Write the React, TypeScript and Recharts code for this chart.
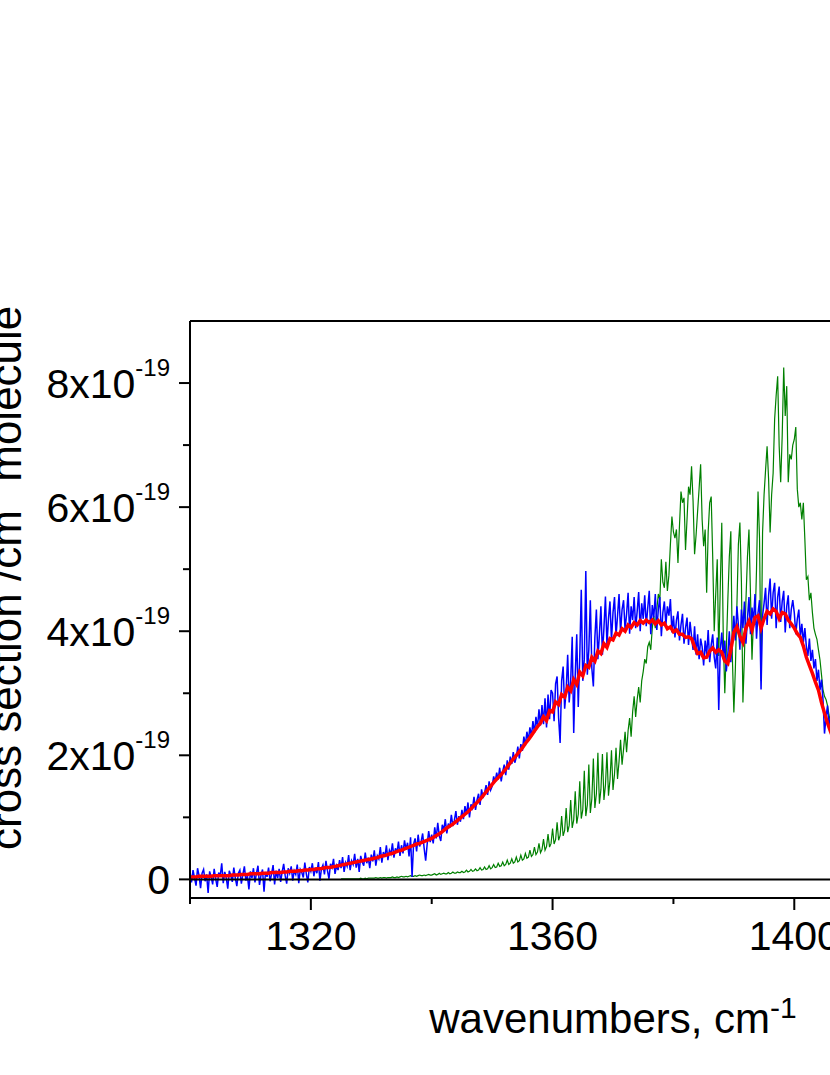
import React from 'react';
import { LineChart, Line, XAxis, YAxis, ReferenceLine } from 'recharts';

// Axes
const X_DOMAIN: [number, number] = [1300, 1440];
const Y_DOMAIN: [number, number] = [-0.3, 9];
const X_TICKS = [1300, 1320, 1340, 1360, 1380, 1400, 1420, 1440];
const X_LABELED = [1320, 1360, 1400, 1440];
const Y_TICKS = [0, 1, 2, 3, 4, 5, 6, 7, 8];
const Y_LABELED = [0, 2, 4, 6, 8];
const Y_EXPONENT = '-19';
const X_TITLE = 'wavenumbers, cm';
const X_TITLE_SUP = '-1';
const Y_TITLE = 'cross section /cm';
const Y_TITLE_SUP1 = '2';
const Y_TITLE_MID = ' molecule';
const Y_TITLE_SUP2 = '-1';

// Values are cross sections in units of 1e-19 cm^2 molecule^-1
// Measured spectrum (blue), 0.25 cm-1 grid from 1300
const BLUE_START = 1300;
const BLUE_STEP = 0.25;
const BLUE = [
  0.12,-0.05,0.15,0.02,-0.10,0.18,0.06,-0.14,0.10,0.16,-0.03,0.08,-0.22,0.13,0.04,-0.08,0.17,0.01,-0.12,0.11,
  0.05,0.26,-0.06,0.12,0.03,-0.15,0.14,0.07,-0.04,0.19,0.02,-0.11,0.10,0.15,-0.07,0.08,0.21,-0.02,0.06,-0.16,
  0.13,0.02,0.18,-0.05,0.10,0.22,-0.09,0.07,0.16,-0.20,0.12,0.04,0.19,-0.03,0.09,0.23,-0.08,0.14,0.02,0.17,
  -0.04,0.12,0.25,0.06,-0.07,0.18,0.10,0.21,-0.02,0.14,0.08,0.24,-0.06,0.16,0.11,0.03,0.27,0.09,-0.05,0.20,
  0.13,0.26,0.05,0.19,0.10,0.28,-0.02,0.17,0.23,0.08,0.30,0.14,0.01,0.25,0.19,0.33,0.09,0.22,0.15,0.31,
  0.18,0.36,0.12,0.27,0.21,0.39,0.15,0.30,0.24,0.41,0.19,0.33,0.12,0.38,0.28,0.22,0.43,0.26,0.35,0.18,
  0.40,0.29,0.47,0.22,0.38,0.33,0.52,0.27,0.44,0.36,0.55,0.31,0.47,0.41,0.58,0.35,0.50,0.43,0.61,0.38,
  0.55,0.42,0.63,0.48,0.59,0.37,0.68,0.04,0.57,0.66,0.45,0.72,0.53,0.61,0.74,0.50,0.30,0.57,0.78,0.60,
  0.72,0.58,0.84,0.66,0.91,0.70,0.62,0.88,0.79,0.97,0.74,0.90,0.83,1.04,0.86,0.95,1.10,0.88,1.02,0.93,
  1.12,0.97,1.18,1.05,1.24,1.00,1.21,1.15,1.33,1.12,1.28,1.38,1.20,1.45,1.31,1.40,1.52,1.36,1.58,1.44,
  1.50,1.66,1.57,1.72,1.61,1.80,1.58,1.74,1.85,1.68,1.92,1.77,1.98,1.86,2.05,1.88,1.97,2.14,1.95,2.18,
  2.07,2.30,2.16,2.38,2.24,2.45,2.30,2.55,2.36,2.62,2.44,2.74,2.48,2.81,2.50,2.92,2.45,2.98,2.58,3.05,
  3.00,2.55,3.15,3.27,2.60,2.20,3.20,3.43,2.75,3.05,3.62,2.85,3.20,3.91,2.36,3.30,3.95,2.78,3.60,4.67,
  3.20,3.55,4.97,3.30,3.70,4.50,3.40,3.11,3.90,4.35,3.55,3.95,4.40,3.62,4.05,4.56,3.78,4.20,4.48,3.85,
  4.30,4.55,3.92,4.25,4.60,3.98,4.35,4.50,4.02,4.28,4.62,3.96,4.40,4.18,4.55,4.05,4.32,4.63,4.00,4.45,
  4.20,4.58,4.08,4.38,4.65,3.95,4.42,4.22,4.60,4.02,4.35,4.55,3.92,4.30,4.48,4.10,4.40,4.25,4.52,3.98,
  4.25,3.90,4.18,4.32,3.85,4.10,4.28,3.80,4.05,4.22,3.78,4.15,3.92,3.70,4.08,3.62,3.95,3.55,3.88,3.75,
  3.45,3.85,3.60,4.02,3.50,3.78,3.95,3.58,3.40,3.90,2.73,3.70,3.98,3.55,3.85,3.35,3.62,4.00,3.50,3.88,
  4.25,3.85,4.40,4.10,3.70,4.35,4.05,4.48,3.80,4.20,4.55,3.95,4.38,4.15,4.60,3.88,4.30,4.50,3.06,4.25,
  4.45,4.70,4.10,4.58,4.85,4.20,4.62,4.78,4.05,4.55,4.72,4.15,4.48,4.65,3.98,4.40,4.58,4.05,4.35,4.50,
  4.30,3.95,4.20,4.35,3.90,4.12,3.82,4.05,3.75,3.60,3.88,3.52,3.70,3.40,3.55,3.20,3.38,3.05,3.22,2.90,
  2.35,2.62,2.80,2.45,2.62,2.35,2.48,2.20,2.30,
];

// Smoothed spectrum (red), 0.5 cm-1 grid from 1300
const RED_START = 1300;
const RED_STEP = 0.5;
const RED = [
  0.04,0.04,0.04,0.05,0.05,0.05,0.05,0.05,0.06,0.06,
  0.06,0.06,0.06,0.06,0.07,0.07,0.07,0.08,0.08,0.08,
  0.09,0.09,0.09,0.09,0.10,0.10,0.10,0.11,0.11,0.11,
  0.11,0.12,0.12,0.13,0.13,0.13,0.14,0.14,0.15,0.15,
  0.16,0.16,0.17,0.17,0.18,0.19,0.19,0.20,0.21,0.22,
  0.23,0.24,0.25,0.26,0.27,0.28,0.29,0.30,0.31,0.32,
  0.33,0.34,0.35,0.37,0.38,0.39,0.41,0.42,0.44,0.46,
  0.47,0.49,0.51,0.53,0.55,0.57,0.58,0.60,0.62,0.64,
  0.66,0.69,0.72,0.75,0.79,0.83,0.86,0.89,0.93,0.97,
  1.01,1.05,1.09,1.14,1.19,1.24,1.29,1.35,1.41,1.47,
  1.53,1.59,1.64,1.69,1.75,1.81,1.88,1.94,2.00,2.06,
  2.12,2.19,2.25,2.32,2.39,2.46,2.52,2.62,2.56,2.72,
  2.70,2.86,2.82,2.98,2.94,3.10,3.04,3.22,3.14,3.34,
  3.28,3.45,3.42,3.58,3.52,3.68,3.64,3.80,3.74,3.88,
  3.86,3.97,3.94,4.04,4.00,4.10,4.06,4.14,4.10,4.17,
  4.13,4.18,4.14,4.18,4.12,4.17,4.10,4.13,4.04,4.07,
  3.99,4.02,3.95,3.95,3.90,3.91,3.88,3.75,3.64,3.66,
  3.57,3.58,3.68,3.73,3.66,3.70,3.66,3.52,3.48,3.70,
  3.98,4.07,3.92,3.82,4.05,4.16,4.02,4.22,4.25,4.05,
  4.20,4.32,4.28,4.36,4.32,4.20,4.30,4.28,4.18,4.12,
  4.05,3.96,3.90,3.76,3.58,3.45,3.32,3.18,3.05,2.85,
  2.68,2.52,2.38,2.26,2.14,
];

// Calculated spectrum (green), 0.25 cm-1 grid from 1325
const GREEN_START = 1325;
const GREEN_STEP = 0.25;
const GREEN = [
  0.01,0.01,0.01,0.01,0.01,0.01,0.01,0.01,0.01,0.01,0.01,0.01,0.01,0.02,0.01,0.01,0.02,0.01,0.02,0.02,
  0.02,0.02,0.02,0.03,0.02,0.02,0.03,0.02,0.03,0.03,0.02,0.03,0.03,0.03,0.04,0.03,0.03,0.04,0.03,0.04,
  0.05,0.04,0.04,0.05,0.04,0.05,0.06,0.05,0.05,0.06,0.05,0.06,0.07,0.06,0.06,0.07,0.06,0.07,0.08,0.07,
  0.07,0.08,0.09,0.07,0.08,0.10,0.08,0.09,0.10,0.09,0.09,0.11,0.09,0.10,0.12,0.10,0.10,0.12,0.11,0.11,
  0.13,0.11,0.12,0.15,0.12,0.13,0.16,0.13,0.14,0.17,0.14,0.15,0.19,0.15,0.16,0.20,0.16,0.17,0.22,0.17,
  0.19,0.24,0.19,0.20,0.26,0.21,0.22,0.28,0.22,0.24,0.31,0.24,0.26,0.33,0.26,0.28,0.36,0.28,0.30,0.39,
  0.31,0.33,0.42,0.34,0.36,0.47,0.37,0.40,0.52,0.40,0.44,0.58,0.43,0.48,0.65,0.47,0.53,0.73,0.52,0.58,
  0.82,0.57,0.64,0.92,0.63,0.71,1.02,0.70,0.79,1.15,0.76,0.87,1.28,0.83,0.96,1.42,0.90,1.05,1.58,0.98,
  1.12,1.75,1.02,1.20,1.85,1.07,1.30,1.95,1.15,1.38,2.04,1.22,1.45,2.02,1.28,1.52,2.05,1.35,1.60,2.08,
  1.44,1.70,2.12,1.62,1.90,2.25,1.85,2.10,2.38,2.05,2.40,2.60,2.30,2.70,2.95,2.62,2.90,3.10,2.85,3.20,
  3.35,3.55,3.48,3.75,3.82,3.70,4.05,4.25,4.05,4.35,4.60,4.50,5.16,4.79,4.70,5.12,4.65,4.90,5.40,5.85,
  5.60,5.50,5.64,5.10,5.70,6.25,6.07,6.15,5.31,5.80,6.33,6.20,6.66,6.10,5.24,5.55,5.93,6.30,6.69,5.80,
  5.37,5.64,4.62,5.60,6.07,6.17,5.20,4.00,4.60,5.16,3.60,4.70,5.75,3.90,3.00,3.70,4.50,5.20,5.61,3.60,
  2.69,3.40,4.40,5.40,5.75,4.80,2.85,3.60,4.50,5.20,5.64,4.60,3.54,4.20,4.10,5.00,6.25,5.50,3.20,5.59,
  6.20,6.60,6.98,6.45,5.59,6.20,6.55,7.42,7.80,8.11,6.98,6.40,7.15,8.25,7.47,7.95,6.40,6.85,6.77,7.00,
  7.09,7.29,6.29,6.00,6.07,5.80,6.07,5.48,4.83,4.88,4.50,4.62,4.30,4.05,3.95,3.87,3.70,3.54,3.30,3.06,
  2.95,2.90,2.80,2.65,2.53,2.45,2.35,2.25,2.15,
];

type Row = { x: number; blue?: number; red?: number; green?: number };

function buildRows(): Row[] {
  const map = new Map<number, Row>();
  const put = (start: number, step: number, arr: number[], key: 'blue' | 'red' | 'green') => {
    arr.forEach((v, i) => {
      const x = start + i * step;
      const r = map.get(x) || { x };
      r[key] = v;
      map.set(x, r);
    });
  };
  put(BLUE_START, BLUE_STEP, BLUE, 'blue');
  put(RED_START, RED_STEP, RED, 'red');
  put(GREEN_START, GREEN_STEP, GREEN, 'green');
  return Array.from(map.values()).sort((a, b) => a.x - b.x);
}

const ROWS = buildRows();
const FONT = '"Liberation Sans", Arial, Helvetica, sans-serif';

const XTick = (props: any) => {
  const { x, y, payload } = props;
  const v = payload.value;
  const major = X_LABELED.includes(v);
  return (
    <g>
      <line x1={x} x2={x} y1={y} y2={y + (major ? 12 : 6)} stroke="#000" strokeWidth={2} />
      {major && (
        <text x={x} y={y + 52} textAnchor="middle" fontSize={41} fontFamily={FONT} fill="#000">
          {v}
        </text>
      )}
    </g>
  );
};

const YTick = (props: any) => {
  const { x, y, payload } = props;
  const v = payload.value;
  const major = Y_LABELED.includes(v);
  return (
    <g>
      <line x1={x - (major ? 11 : 7)} x2={x} y1={y} y2={y} stroke="#000" strokeWidth={2} />
      {major && (
        <text x={x - 20} y={y + 15} textAnchor="end" fontSize={41} fontFamily={FONT} fill="#000">
          {v === 0 ? (
            '0'
          ) : (
            <>
              {`${v}x10`}
              <tspan dy={-22} fontSize={24}>{Y_EXPONENT}</tspan>
            </>
          )}
        </text>
      )}
    </g>
  );
};

const XTitle = (props: any) => {
  const vb = props.viewBox || { x: 190, y: 898, width: 846 };
  const cx = vb.x + vb.width / 2;
  return (
    <text x={cx} y={vb.y + 135} textAnchor="middle" fontSize={42} fontFamily={FONT} fill="#000">
      {X_TITLE}
      <tspan dy={-15} fontSize={30}>{X_TITLE_SUP}</tspan>
    </text>
  );
};

const YTitle = (props: any) => {
  const vb = props.viewBox || { x: 0, y: 321, width: 190, height: 577 };
  const tx = vb.x + 21;
  const ty = vb.y + vb.height - 48;
  return (
    <text
      transform={`translate(${tx}, ${ty}) rotate(-90)`}
      x={0}
      y={0}
      textAnchor="start"
      fontSize={44}
      fontFamily={FONT}
      fill="#000"
    >
      {Y_TITLE}
      <tspan dy={-30} fontSize={29}>{Y_TITLE_SUP1}</tspan>
      <tspan dy={30}>{Y_TITLE_MID}</tspan>
      <tspan dy={-30} fontSize={29}>{Y_TITLE_SUP2}</tspan>
    </text>
  );
};

export default function App() {
  return (
    <div
      style={{
        position: 'absolute',
        left: 0,
        top: 0,
        width: 830,
        height: 1075,
        overflow: 'hidden',
        background: '#fff',
        fontFamily: FONT,
      }}
    >
      <LineChart
        width={1100}
        height={1075}
        data={ROWS}
        margin={{ top: 321, right: 64, bottom: 0, left: 0 }}
      >
        <XAxis
          dataKey="x"
          type="number"
          domain={X_DOMAIN}
          allowDataOverflow
          ticks={X_TICKS}
          interval={0}
          tickLine={false}
          tickSize={0}
          tickMargin={0}
          axisLine={{ stroke: '#000', strokeWidth: 2 }}
          tick={<XTick />}
          height={177}
          label={<XTitle />}
        />
        <YAxis
          type="number"
          domain={Y_DOMAIN}
          allowDataOverflow
          ticks={Y_TICKS}
          interval={0}
          tickLine={false}
          tickSize={0}
          tickMargin={0}
          axisLine={{ stroke: '#000', strokeWidth: 2 }}
          tick={<YTick />}
          width={190}
          label={<YTitle />}
        />
        <ReferenceLine y={9} stroke="#000" strokeWidth={2} />
        <Line
          dataKey="green"
          type="linear"
          stroke="#008000"
          strokeWidth={1.2}
          dot={false}
          activeDot={false}
          connectNulls
          isAnimationActive={false}
        />
        <Line
          dataKey="blue"
          type="linear"
          stroke="#0000FF"
          strokeWidth={1.5}
          dot={false}
          activeDot={false}
          connectNulls
          isAnimationActive={false}
        />
        <Line
          dataKey="red"
          type="linear"
          stroke="#FF0000"
          strokeWidth={3.5}
          dot={false}
          activeDot={false}
          connectNulls
          isAnimationActive={false}
        />
        <ReferenceLine y={0} stroke="#000" strokeWidth={2} />
      </LineChart>
    </div>
  );
}
